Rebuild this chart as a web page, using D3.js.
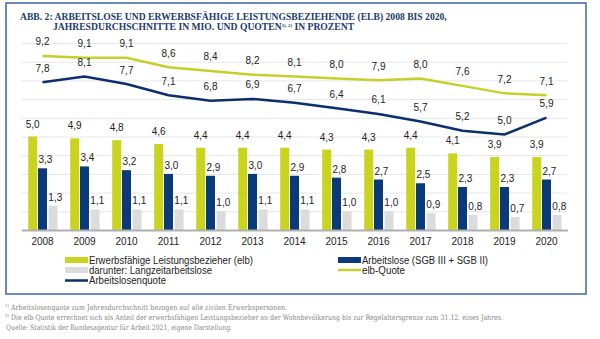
<!DOCTYPE html>
<html>
<head>
<meta charset="utf-8">
<script src="https://cdn.jsdelivr.net/npm/d3@7"></script>
<style>
  body { margin: 0; background: #fff; }
  svg { display: block; }
  .val { font-family: "Liberation Sans", Arial, sans-serif; font-size: 10px; fill: #222; }
  .grid line { stroke: #e6e6e6; stroke-width: 1; }
  .grid .domain { display: none; }
  .xaxis text { font-family: "Liberation Sans", Arial, sans-serif; font-size: 10px; fill: #222; }
  .xaxis .tick line { display: none; }
  .xaxis .domain { stroke: #b0b0b0; stroke-width: 2; }
  .legend text { font-family: "Liberation Sans", Arial, sans-serif; font-size: 10px; fill: #222; }
  .title { font-family: "Liberation Serif", "DejaVu Serif", serif; font-weight: bold; fill: #1c3b6c; }
  .note { font-family: "DejaVu Serif", serif; font-size: 7.4px; fill: #858585; }
</style>
</head>
<body>
<script>
// Jahresdurchschnitte 2008-2020, Mio. bzw. Prozent
var years = ["2008","2009","2010","2011","2012","2013","2014","2015","2016","2017","2018","2019","2020"];
var elb       = [5.0, 4.9, 4.8, 4.6, 4.4, 4.4, 4.4, 4.3, 4.3, 4.4, 4.1, 3.9, 3.9];
var arbeitslose = [3.3, 3.4, 3.2, 3.0, 2.9, 3.0, 2.9, 2.8, 2.7, 2.5, 2.3, 2.3, 2.7];
var langzeit  = [1.3, 1.1, 1.1, 1.1, 1.0, 1.1, 1.1, 1.0, 1.0, 0.9, 0.8, 0.7, 0.8];
var elbQuote  = [9.2, 9.1, 9.1, 8.6, 8.4, 8.2, 8.1, 8.0, 7.9, 8.0, 7.6, 7.2, 7.1];
var alQuote   = [7.8, 8.1, 7.7, 7.1, 6.8, 6.9, 6.7, 6.4, 6.1, 5.7, 5.2, 5.0, 5.9];

var barKeys = ["elb", "al", "lz"];
var barColors = { elb: "#c9d41e", al: "#0b3a7a", lz: "#dcdcdc" };
var yellowLine = "#c5d12a", navyLine = "#0b2f6e";

var width = 600, height = 339;

var de = d3.formatLocale({ decimal: ",", thousands: ".", grouping: [3], currency: ["", " €"] });
var fmt = de.format(".1f");

var svg = d3.select("body").append("svg")
    .attr("width", width)
    .attr("height", height);

// frame
svg.append("rect")
    .attr("x", 6).attr("y", 3)
    .attr("width", 580).attr("height", 291)
    .attr("fill", "none")
    .attr("stroke", "#3e64a6")
    .attr("stroke-width", 1.5);

// title: size the font so the first line spans 427px, second line hangs under "ARBEITSLOSE"
var title1 = svg.append("text").attr("class", "title")
    .attr("x", 20).attr("y", 19.5)
    .style("font-size", "10px")
    .text("ABB. 2: ARBEITSLOSE UND ERWERBSFÄHIGE LEISTUNGSBEZIEHENDE (ELB) 2008 BIS 2020,");
var titleSize = 10 * 427 / title1.node().getComputedTextLength();
title1.style("font-size", titleSize + "px");

var title2 = svg.append("text").attr("class", "title")
    .attr("x", 53).attr("y", 30)
    .style("font-size", titleSize + "px");
title2.append("tspan").text("JAHRESDURCHSCHNITTE IN MIO. UND QUOTEN");
title2.append("tspan").attr("dy", -3.5).style("font-size", "4.8px").text("1), 2)");
title2.append("tspan").attr("dy", 3.5).text(" IN PROZENT");

var x0 = d3.scaleBand()
    .domain(years)
    .range([21.5, 567.5])
    .paddingInner(0.32)
    .paddingOuter(0.16);

var x1 = d3.scaleBand()
    .domain(barKeys)
    .range([0, x0.bandwidth()])
    .paddingInner(0.08);

var yBar = d3.scaleLinear().domain([0, 10]).range([230, 43]);
var yLine = d3.scaleLinear().domain([0, 10]).range([228, 41]);

// gridlines
svg.append("g")
    .attr("class", "grid")
    .attr("transform", "translate(21.5,0)")
    .call(d3.axisLeft(yBar).tickValues(d3.range(1, 11)).tickSize(-546).tickFormat(""));

var rows = years.map(function(y, i) {
  return { year: y, elb: elb[i], al: arbeitslose[i], lz: langzeit[i] };
});

var groups = svg.append("g").selectAll("g")
    .data(rows)
    .join("g")
    .attr("transform", function(d) { return "translate(" + x0(d.year) + ",0)"; });

groups.selectAll("rect")
    .data(function(d) { return barKeys.map(function(k) { return { key: k, value: d[k] }; }); })
    .join("rect")
    .attr("x", function(d) { return x1(d.key) + (d.key === "lz" ? 0.8 : 0); })
    .attr("y", function(d) { return yBar(d.value); })
    .attr("width", x1.bandwidth())
    .attr("height", function(d) { return yBar(0) - yBar(d.value); })
    .attr("fill", function(d) { return barColors[d.key]; });

groups.selectAll("text")
    .data(function(d) { return barKeys.map(function(k) { return { key: k, value: d[k] }; }); })
    .join("text")
    .attr("class", "val")
    .attr("text-anchor", "middle")
    .attr("x", function(d) { return x1(d.key) + x1.bandwidth() / 2 + (d.key === "elb" ? 0 : 3); })
    .attr("y", function(d) { return yBar(d.value) - (d.key === "elb" ? 9 : 5); })
    .text(function(d) { return fmt(d.value); });

// x axis with baseline
svg.append("g")
    .attr("class", "xaxis")
    .attr("transform", "translate(0,230)")
    .call(d3.axisBottom(x0).tickSize(0).tickPadding(8).tickSizeOuter(0));

// lines
var cx = function(i) { return x0(years[i]) + x0.bandwidth() / 2; };
var line = d3.line()
    .x(function(d, i) { return cx(i); })
    .y(function(d) { return yLine(d); });

[[elbQuote, yellowLine], [alQuote, navyLine]].forEach(function(s) {
  svg.append("path")
      .datum(s[0])
      .attr("fill", "none")
      .attr("stroke", s[1])
      .attr("stroke-width", 2.5)
      .attr("d", line);
  svg.append("g").selectAll("text")
      .data(s[0])
      .join("text")
      .attr("class", "val")
      .attr("text-anchor", "middle")
      .attr("x", function(d, i) { return cx(i); })
      .attr("y", function(d) { return yLine(d) - 10.5; })
      .text(fmt);
});

// legend
var legend = svg.append("g").attr("class", "legend");
var legendItems = [
  { x: 65, y: 260, type: "rect", color: barColors.elb, label: "Erwerbsfähige Leistungsbezieher (elb)", w: 164 },
  { x: 65, y: 270, type: "rect", color: barColors.lz, label: "darunter: Langzeitarbeitslose", w: 123 },
  { x: 65, y: 280.5, type: "line", color: navyLine, label: "Arbeitslosenquote", w: 77 },
  { x: 338, y: 260, type: "rect", color: barColors.al, label: "Arbeitslose (SGB III + SGB II)", w: 126 },
  { x: 338, y: 270, type: "line", color: yellowLine, label: "elb-Quote", w: 43 }
];
legendItems.forEach(function(d) {
  if (d.type === "rect") {
    legend.append("rect").attr("x", d.x).attr("y", d.y - 3).attr("width", 23).attr("height", 6).attr("fill", d.color);
  } else {
    legend.append("line").attr("x1", d.x).attr("x2", d.x + 23).attr("y1", d.y).attr("y2", d.y)
        .attr("stroke", d.color).attr("stroke-width", 2.5);
  }
  legend.append("text")
      .attr("x", d.x + 24).attr("y", d.y + 3.5)
      .attr("textLength", d.w).attr("lengthAdjust", "spacingAndGlyphs")
      .text(d.label);
});

// footnotes
var notes = [
  { sup: "1)", text: "Arbeitslosenquote zum Jahresdurchschnitt bezogen auf alle zivilen Erwerbspersonen.", y: 310, w: 276 },
  { sup: "2)", text: "Die elb-Quote errechnet sich als Anteil der erwerbsfähigen Leistungsbezieher an der Wohnbevölkerung bis zur Regelaltersgrenze zum 31.12. eines Jahres.", y: 320, w: 492 },
  { sup: "", text: "Quelle: Statistik der Bundesagentur für Arbeit 2021, eigene Darstellung.", y: 330, w: 226 }
];
notes.forEach(function(n) {
  if (n.sup) {
    svg.append("text").attr("class", "note").attr("x", 5).attr("y", n.y - 3.5)
        .style("font-size", "4px").text(n.sup);
  }
  svg.append("text").attr("class", "note")
      .attr("x", n.sup ? 11 : 6).attr("y", n.y)
      .attr("textLength", n.w).attr("lengthAdjust", "spacingAndGlyphs")
      .text(n.text);
});
</script>
</body>
</html>
